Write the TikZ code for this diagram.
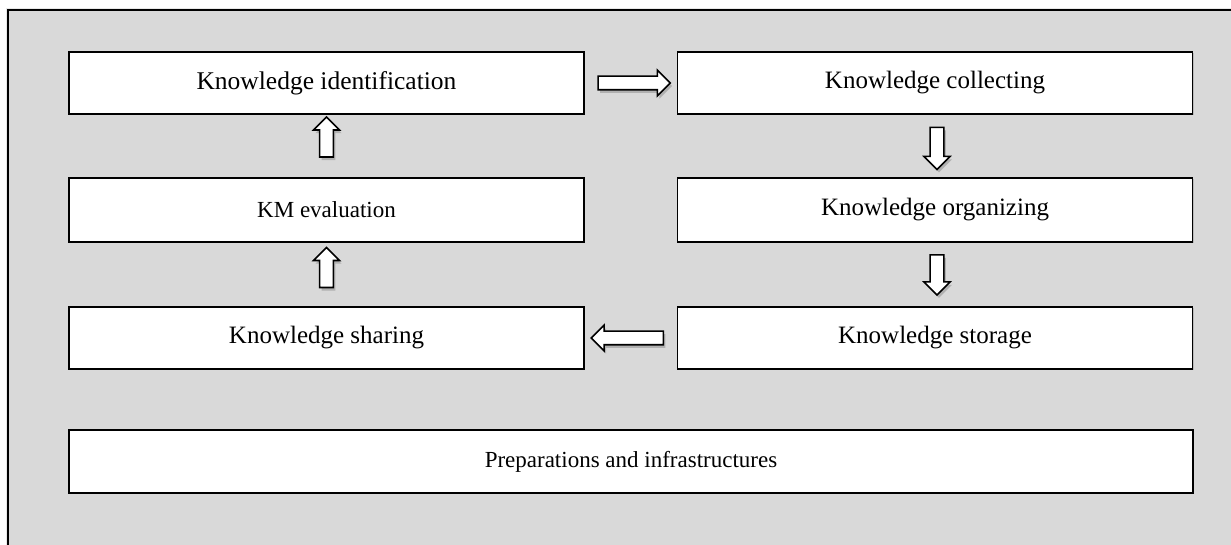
\documentclass[tikz,border=0pt]{standalone}
\usepackage{fontspec}
\setmainfont{Liberation Serif}
\usetikzlibrary{shapes.arrows,shadows,calc}
\begin{document}
\begin{tikzpicture}[x=1pt,y=1pt,
  stagebox/.style={draw=black,line width=1.6pt,fill=white,minimum height=62pt,minimum width=515pt,inner sep=0pt,
    font=\fontsize{25}{30}\selectfont,
    drop shadow={shadow xshift=1.2pt,shadow yshift=-1.2pt,opacity=0.35}},
  smalltext/.style={font=\fontsize{23}{28}\selectfont},
  blockarrow/.style={single arrow,draw=black,line width=1.6pt,fill=white,inner sep=6pt,
    single arrow head extend=6pt,single arrow tip angle=90,
    drop shadow={shadow xshift=2pt,shadow yshift=-3pt,opacity=0.45}}
]
\useasboundingbox (0,0) rectangle (1231,545);
\fill[white] (0,0) rectangle (1231,545);
\fill[black!9] (6,0) rectangle (1231,537);
\fill[black!15!white] (8,0) rectangle (1231,535);
\draw[line width=2pt] (8,0) -- (8,535) -- (1231,535);
\fill[black!15!white] (9,0) rectangle (1231,534);

\node[stagebox,font=\fontsize{25.5}{30}\selectfont] (ident) at (326.5,462) {Knowledge identification};
\node[stagebox] (collect) at (935,462)   {Knowledge collecting};
\node[stagebox,smalltext,minimum height=64pt] (eval) at (326.5,335) {KM evaluation};
\node[stagebox,minimum height=64pt] (organ) at (935,335) {Knowledge organizing};
\node[stagebox] (share)   at (326.5,207) {Knowledge sharing};
\node[stagebox] (store)   at (935,207)   {Knowledge storage};
\node[stagebox,smalltext,minimum width=1124pt,minimum height=63pt] (prep) at (631,83.5) {Preparations and infrastructures};

% block arrows between stages
\node[blockarrow,minimum height=72pt,minimum width=24pt] (a1) at ($(ident.east)!0.5!(collect.west)$) {};
\node[blockarrow,minimum height=42pt,minimum width=26pt,shape border rotate=270] (a2) at (937,400) {};
\node[blockarrow,minimum height=40pt,minimum width=26pt,shape border rotate=270] (a3) at (937,273.5) {};
\node[blockarrow,minimum height=72pt,minimum width=24pt,shape border rotate=180] (a4) at ($(share.east)!0.5!(store.west)$) {};
\node[blockarrow,minimum height=40pt,minimum width=26pt,shape border rotate=90] (a5) at (326.5,274) {};
\node[blockarrow,minimum height=40pt,minimum width=26pt,shape border rotate=90] (a6) at (326.5,404.5) {};
\end{tikzpicture}
\end{document}
